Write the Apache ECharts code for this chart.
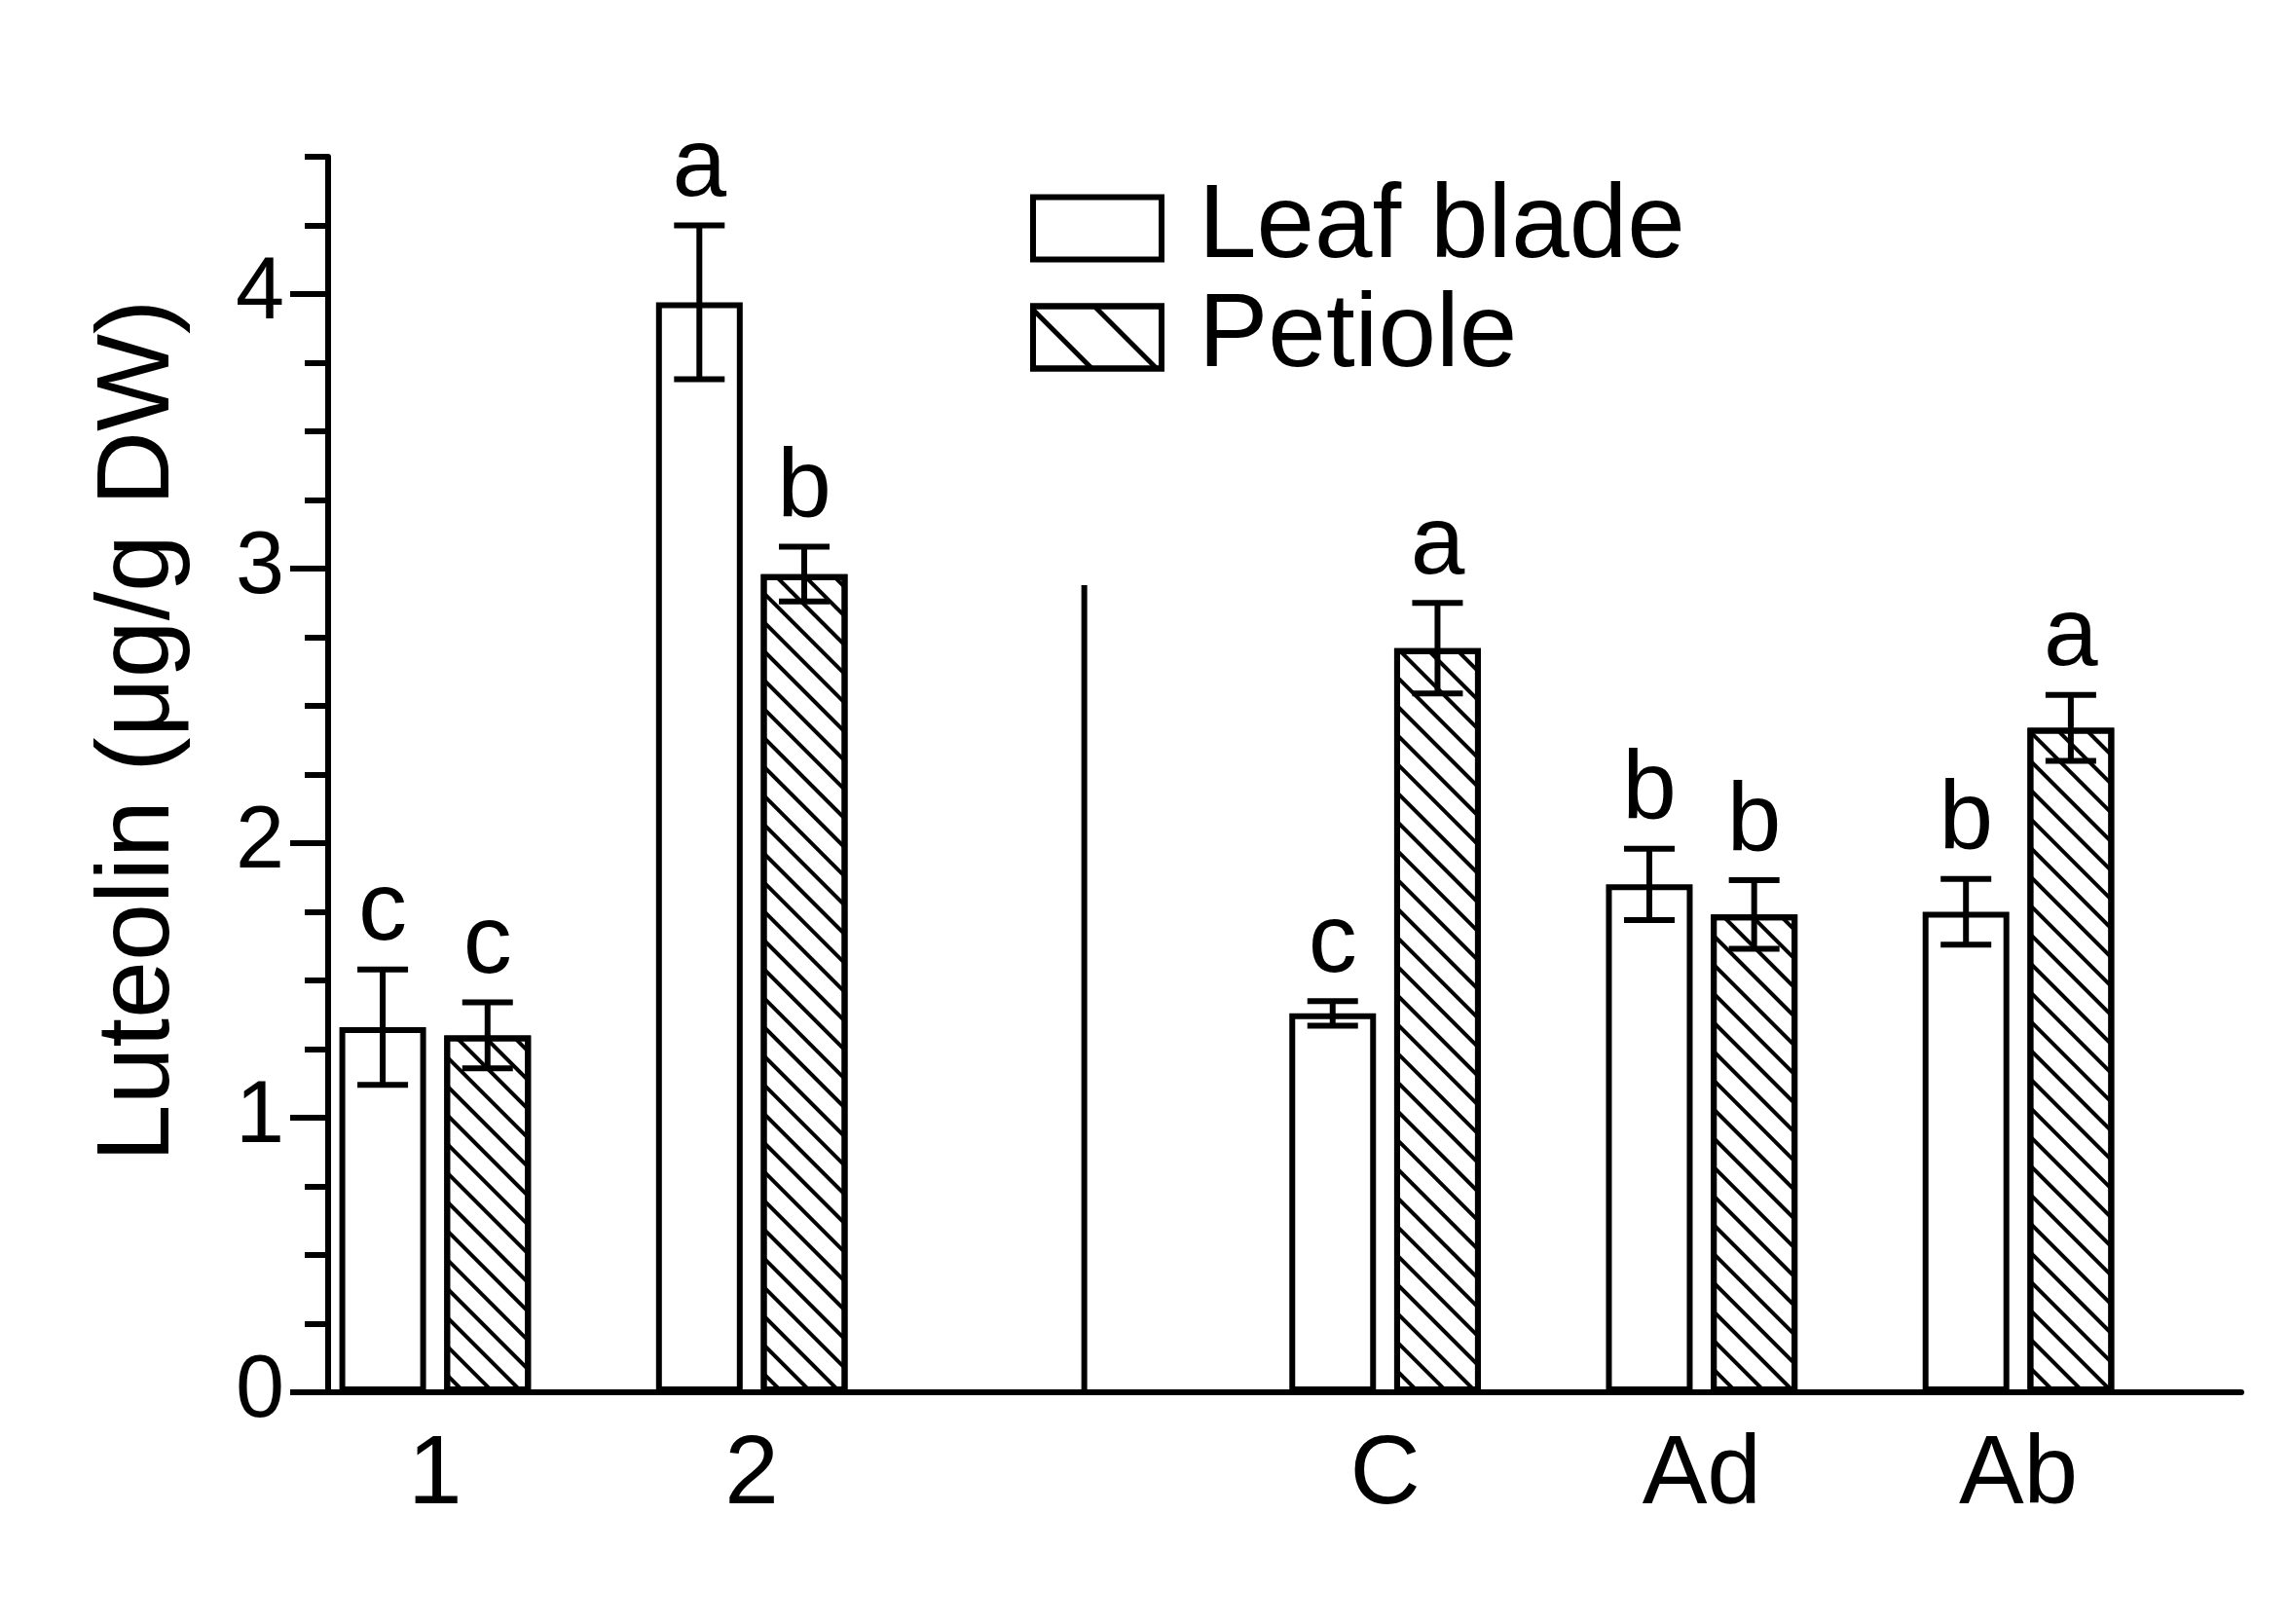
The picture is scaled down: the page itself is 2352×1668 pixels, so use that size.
<!DOCTYPE html>
<html>
<head>
<meta charset="utf-8">
<script src="https://cdn.jsdelivr.net/npm/echarts@6/dist/echarts.min.js"></script>
<style>
  html, body { margin: 0; padding: 0; background: #fff; }
  #main { width: 2352px; height: 1668px; }
</style>
</head>
<body>
<div id="main"></div>
<script>
// groups on the x axis (slot 3 is left empty for the separator)
var groups = ['1', '2', 'C', 'Ad', 'Ab'];
var groupPos = [1, 2, 4, 5, 6];

var leafMean = [1.33, 3.97, 1.38, 1.85, 1.75];
var leafErr = [0.21, 0.28, 0.045, 0.13, 0.12];
var leafLetters = ['c', 'a', 'c', 'b', 'b'];

var petioleMean = [1.30, 2.98, 2.71, 1.74, 2.42];
var petioleErr = [0.12, 0.10, 0.165, 0.125, 0.12];
var petioleLetters = ['c', 'b', 'a', 'b', 'a'];

var yMajorTicks = [0, 1, 2, 3, 4];
var separatorX = [3.05, 3.05];
var separatorY = [0, 2.94];

var FONT = 'Liberation Sans';
var BAR_W = 89;
var BAR_GAP = 0.21;
var OFFSET = BAR_W * (1 + BAR_GAP) / 2;

var chart = echarts.init(document.getElementById('main'));

function pairs(means) {
  return groupPos.map(function (p, i) { return [p, means[i]]; });
}

function errRows(means, errs) {
  return groupPos.map(function (p, i) { return [p, means[i], errs[i]]; });
}

// error bar + significance letter, shifted onto its bar
function errRender(offset, letters) {
  return function (params, api) {
    var x = api.value(0), m = api.value(1), e = api.value(2);
    var top = api.coord([x, m + e]);
    var bot = api.coord([x, m - e]);
    var cx = top[0] + offset;
    var cap = 26;
    var ls = { stroke: '#000', lineWidth: 6 };
    return {
      type: 'group',
      children: [
        { type: 'line', shape: { x1: cx, y1: top[1], x2: cx, y2: bot[1] }, style: ls },
        { type: 'line', shape: { x1: cx - cap, y1: top[1], x2: cx + cap, y2: top[1] }, style: ls },
        { type: 'line', shape: { x1: cx - cap, y1: bot[1], x2: cx + cap, y2: bot[1] }, style: ls },
        {
          type: 'text', x: cx, y: top[1] - 8,
          style: {
            text: letters[params.dataIndex], fill: '#000',
            fontSize: 100, fontFamily: FONT,
            align: 'center', verticalAlign: 'bottom'
          }
        }
      ]
    };
  };
}

var hatch = {
  symbol: 'rect', symbolSize: 1, color: '#000',
  dashArrayX: [1, 0], dashArrayY: [4, 17],
  rotation: Math.PI / 4
};

var option = {
  animation: false,
  backgroundColor: '#fff',
  grid: { left: 337, right: 50, top: 161, bottom: 238, outerBoundsMode: 'none' },
  legend: {
    orient: 'vertical',
    left: 1058,
    top: 181,
    padding: 0,
    itemGap: 5,
    itemWidth: 132,
    itemHeight: 64,
    icon: 'rect',
    selectedMode: false,
    itemStyle: { borderColor: '#000', borderWidth: 6 },
    data: [
      { name: 'Leaf blade' },
      { name: 'Petiole', itemStyle: { decal: { symbol: 'rect', symbolSize: 1, color: '#000', dashArrayX: [1, 0], dashArrayY: [5, 42], rotation: Math.PI / 4 } } }
    ],
    textStyle: { fontSize: 107, fontFamily: FONT, color: '#000', padding: [0, 0, 0, 33] }
  },
  xAxis: {
    type: 'value',
    min: 0.662,
    max: 6.704,
    splitLine: { show: false },
    axisTick: { show: false },
    axisLine: { show: true, onZero: false, lineStyle: { color: '#000', width: 6 } },
    axisLabel: {
      customValues: groupPos,
      formatter: function (v) { return groups[groupPos.indexOf(v)] || ''; },
      fontSize: 100, fontFamily: FONT, color: '#000', margin: 36
    }
  },
  yAxis: [{
    type: 'value',
    min: 0,
    max: 4.5,
    interval: 0.25,
    name: 'Luteolin (μg/g DW)',
    nameLocation: 'middle',
    nameRotate: 90,
    nameGap: 140,
    nameTextStyle: { fontSize: 106, fontFamily: FONT, color: '#000', padding: [0, 0, 0, 90] },
    splitLine: { show: false },
    axisLine: { show: true, lineStyle: { color: '#000', width: 6 } },
    axisTick: { show: true, length: 24, lineStyle: { color: '#000', width: 6 } },
    axisLabel: {
      formatter: function (v) { return v % 1 === 0 ? String(v) : ''; },
      fontSize: 90, fontFamily: FONT, color: '#000', margin: 45
    }
  }, {
    // longer ticks at the whole numbers
    type: 'value',
    position: 'left',
    min: 0,
    max: 4.5,
    interval: 1,
    splitLine: { show: false },
    axisLine: { show: false },
    axisLabel: { show: false },
    axisTick: { show: true, customValues: yMajorTicks, length: 39, lineStyle: { color: '#000', width: 6 } }
  }],
  series: [{
    name: 'Leaf blade',
    type: 'bar',
    barWidth: BAR_W,
    barGap: BAR_GAP * 100 + '%',
    itemStyle: { color: '#fff', borderColor: '#000', borderWidth: 6 },
    data: pairs(leafMean)
  }, {
    name: 'Petiole',
    type: 'bar',
    barWidth: BAR_W,
    barGap: BAR_GAP * 100 + '%',
    itemStyle: { color: '#fff', borderColor: '#000', borderWidth: 6, decal: hatch },
    data: pairs(petioleMean)
  }, {
    type: 'custom',
    z: 5,
    renderItem: errRender(-OFFSET, leafLetters),
    encode: { x: 0, y: 1 },
    data: errRows(leafMean, leafErr)
  }, {
    type: 'custom',
    z: 5,
    renderItem: errRender(OFFSET, petioleLetters),
    encode: { x: 0, y: 1 },
    data: errRows(petioleMean, petioleErr)
  }, {
    type: 'line',
    silent: true,
    symbol: 'none',
    lineStyle: { color: '#000', width: 6 },
    data: [[separatorX[0], separatorY[0]], [separatorX[1], separatorY[1]]]
  }]
};

chart.setOption(option);
</script>
</body>
</html>
